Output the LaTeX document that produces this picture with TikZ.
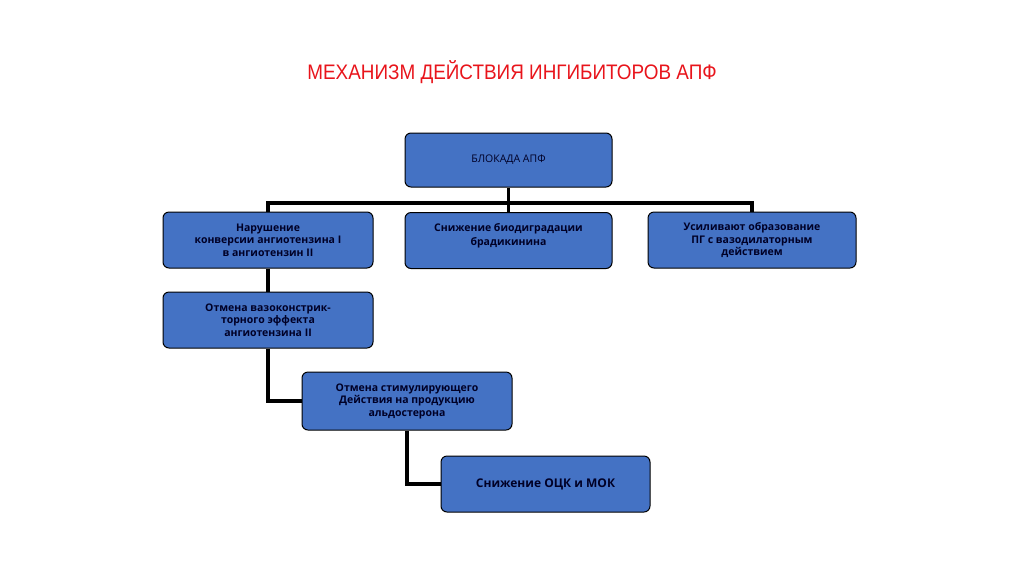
\documentclass[tikz,border=0pt]{standalone}
\usepackage{fontspec}
\setmainfont{Open Sans}
\newfontfamily\titlefont{Liberation Sans}
\definecolor{boxblue}{HTML}{4472C4}
\definecolor{titlered}{HTML}{E8141B}
\begin{document}
\begin{tikzpicture}[x=1pt,y=-1pt,
  bx/.style={draw=black,line width=1pt,fill=boxblue,rounded corners=6pt,inner sep=0pt,align=center,text=black!85!blue,font=\fontsize{10.5}{12.5}\selectfont\bfseries},
  con/.style={line width=3.2pt,draw=black}]
\useasboundingbox (0,0) rectangle (1024,574);
\node[font=\titlefont\fontsize{21}{24}\selectfont,text=titlered,xscale=0.9] (title) at (512,72) {МЕХАНИЗМ ДЕЙСТВИЯ ИНГИБИТОРОВ АПФ};
\node[bx,minimum width=207pt,minimum height=54pt,font=\fontsize{10.5}{12.5}\selectfont] (top) at (508.5,160) {БЛОКАДА АПФ};
\node[bx,minimum width=210pt,minimum height=56pt] (a) at (268,240) {Нарушение\\конверсии ангиотензина I\\в ангиотензин II};
\node[bx,minimum width=207pt,minimum height=56pt,anchor=north] (b) at (508.5,212) {\raisebox{12pt}{\shortstack{Снижение биодиградации\\брадикинина}}};
\node[bx,minimum width=208pt,minimum height=56pt] (c) at (752,240) {Усиливают образование\\ПГ с вазодилаторным\\действием};
\node[bx,minimum width=210pt,minimum height=56pt] (d) at (268,320) {Отмена вазоконстрик-\\торного эффекта\\ангиотензина II};
\node[bx,minimum width=210pt,minimum height=58pt] (e) at (407,401) {Отмена стимулирующего\\Действия на продукцию\\альдостерона};
\node[bx,minimum width=209pt,minimum height=56pt,font=\fontsize{12}{14}\selectfont\bfseries] (f) at (545.5,484) {Снижение ОЦК и МОК};
\coordinate (h) at (508.5,203);
\draw[con] (top.south) -- (h);
\draw[con] (a.north) |- (h) -| (c.north);
\draw[con] (h) -- (b.north);
\draw[con] (a.south) -- (d.north);
\draw[con] (d.south) |- (e.west);
\draw[con] (e.south) |- (f.west);
\end{tikzpicture}
\end{document}
